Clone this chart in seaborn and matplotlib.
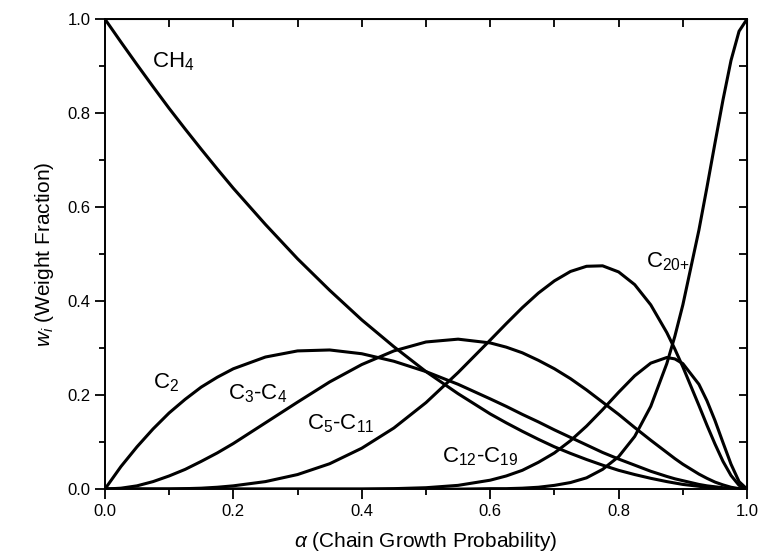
import numpy as np
import pandas as pd
import matplotlib
matplotlib.use("Agg")
import matplotlib.pyplot as plt
import seaborn as sns
from matplotlib.ticker import MultipleLocator

# chain growth probability values
alpha = [0.0, 0.025, 0.05, 0.075, 0.1, 0.125, 0.15, 0.175, 0.2, 0.25, 0.3, 0.35,
         0.4, 0.45, 0.5, 0.55, 0.6, 0.625, 0.65, 0.675, 0.7, 0.725, 0.75, 0.775,
         0.8, 0.825, 0.85, 0.875, 0.8875, 0.9, 0.925, 0.9375, 0.95, 0.9625,
         0.975, 0.9875, 1.0]

ch4 = [1.000, 0.951, 0.903, 0.856, 0.810, 0.766, 0.723, 0.681, 0.640, 0.563,
       0.490, 0.423, 0.360, 0.303, 0.250, 0.203, 0.160, 0.141, 0.123, 0.106,
       0.090, 0.076, 0.063, 0.051, 0.040, 0.031, 0.023, 0.016, 0.013, 0.010,
       0.006, 0.004, 0.003, 0.001, 0.001, 0.000, 0.000]
c2 = [0.000, 0.048, 0.090, 0.128, 0.162, 0.191, 0.217, 0.238, 0.256, 0.281,
      0.294, 0.296, 0.288, 0.272, 0.250, 0.223, 0.192, 0.176, 0.159, 0.143,
      0.126, 0.110, 0.094, 0.078, 0.064, 0.051, 0.038, 0.027, 0.022, 0.018,
      0.010, 0.007, 0.005, 0.003, 0.001, 0.000, 0.000]
c3_c4 = [0.000, 0.002, 0.007, 0.016, 0.028, 0.042, 0.059, 0.077, 0.097, 0.141,
         0.185, 0.228, 0.265, 0.294, 0.313, 0.319, 0.311, 0.302, 0.290, 0.274,
         0.256, 0.235, 0.211, 0.185, 0.159, 0.131, 0.104, 0.078, 0.065, 0.053,
         0.032, 0.023, 0.015, 0.009, 0.004, 0.001, 0.000]
c5_c11 = [0.000, 0.000, 0.000, 0.000, 0.000, 0.001, 0.002, 0.004, 0.007, 0.016,
          0.031, 0.054, 0.087, 0.130, 0.184, 0.248, 0.317, 0.352, 0.386, 0.417,
          0.443, 0.463, 0.474, 0.475, 0.462, 0.435, 0.392, 0.333, 0.298, 0.260,
          0.178, 0.136, 0.096, 0.059, 0.029, 0.008, 0.000]
c12_c19 = [0.000, 0.000, 0.000, 0.000, 0.000, 0.000, 0.000, 0.000, 0.000, 0.000,
           0.000, 0.000, 0.000, 0.001, 0.003, 0.008, 0.019, 0.028, 0.040, 0.057,
           0.077, 0.103, 0.134, 0.169, 0.206, 0.241, 0.268, 0.280, 0.277, 0.267,
           0.223, 0.188, 0.146, 0.099, 0.053, 0.016, 0.000]
c20p = [0.000, 0.000, 0.000, 0.000, 0.000, 0.000, 0.000, 0.000, 0.000, 0.000,
        0.000, 0.000, 0.000, 0.000, 0.000, 0.000, 0.001, 0.001, 0.002, 0.004,
        0.008, 0.014, 0.024, 0.042, 0.069, 0.112, 0.176, 0.267, 0.325, 0.392,
        0.551, 0.642, 0.736, 0.828, 0.912, 0.974, 1.000]

series = {"CH4": ch4, "C2": c2, "C3-C4": c3_c4, "C5-C11": c5_c11,
          "C12-C19": c12_c19, "C20+": c20p}

frames = []
for name, vals in series.items():
    frames.append(pd.DataFrame({"alpha": alpha, "w": vals, "species": name}))
df = pd.concat(frames, ignore_index=True)

sns.set_style("ticks")
plt.rcParams["font.family"] = ["Liberation Sans", "DejaVu Sans"]
plt.rcParams["mathtext.fontset"] = "custom"
plt.rcParams["mathtext.rm"] = "Liberation Sans"
plt.rcParams["mathtext.it"] = "Liberation Sans:italic"
plt.rcParams["mathtext.default"] = "regular"
for key in ["text.color", "axes.labelcolor", "xtick.color", "ytick.color",
            "axes.edgecolor"]:
    plt.rcParams[key] = "black"

fig = plt.figure(figsize=(7.6, 5.59), dpi=100)
ax = fig.add_axes([0.138, 0.125, 0.845, 0.841])

sns.lineplot(data=df, x="alpha", y="w", hue="species",
             palette={k: "black" for k in series}, legend=False,
             linewidth=2.2, ax=ax)

ax.set_xlim(0, 1)
ax.set_ylim(0, 1)
ax.xaxis.set_major_locator(MultipleLocator(0.2))
ax.xaxis.set_minor_locator(MultipleLocator(0.1))
ax.yaxis.set_major_locator(MultipleLocator(0.2))
ax.yaxis.set_minor_locator(MultipleLocator(0.1))
ax.tick_params(which="major", direction="out", length=7, width=1.3, labelsize=12)
ax.tick_params(which="minor", direction="out", length=4, width=1.3)
for s in ax.spines.values():
    s.set_linewidth(1.4)

# inward ticks on top and right
top = ax.secondary_xaxis("top")
top.xaxis.set_major_locator(MultipleLocator(0.1))
top.tick_params(direction="in", length=6, width=1.3, labeltop=False)
right = ax.secondary_yaxis("right")
right.yaxis.set_major_locator(MultipleLocator(0.1))
right.tick_params(direction="in", length=6, width=1.3, labelright=False)

ax.set_xlabel(r"$\mathit{\alpha}$ (Chain Growth Probability)", fontsize=15, labelpad=8)
ax.set_ylabel(r"$\mathit{w_i}$ (Weight Fraction)", fontsize=15, labelpad=8)

lab = dict(fontsize=16, ha="left", va="center")
ax.text(0.073, 0.909, r"CH$_4$", **lab)
ax.text(0.075, 0.226, r"C$_2$", **lab)
ax.text(0.192, 0.204, r"C$_3$-C$_4$", **lab)
ax.text(0.315, 0.140, r"C$_5$-C$_{11}$", **lab)
ax.text(0.525, 0.068, r"C$_{12}$-C$_{19}$", **lab)
ax.text(0.842, 0.483, r"C$_{20{+}}$", **lab)

fig.savefig("out.png", dpi=100)
